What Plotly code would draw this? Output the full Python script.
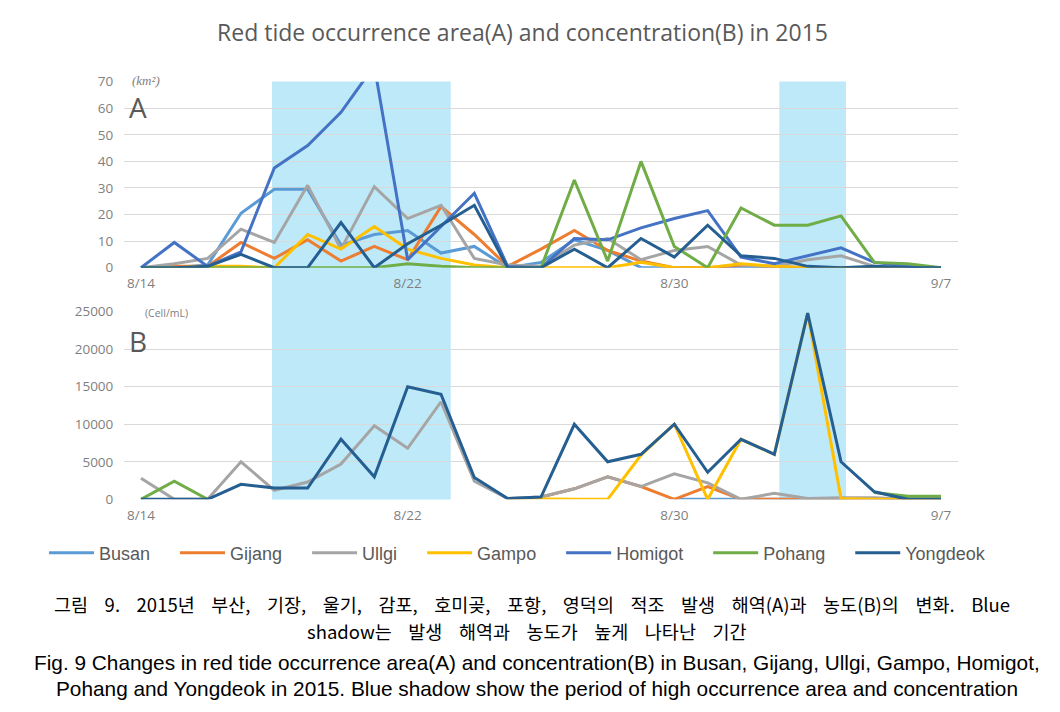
import plotly.graph_objects as go

# ---------------- data ----------------
dates = ["2015-08-14", "2015-08-15", "2015-08-16", "2015-08-17", "2015-08-18",
         "2015-08-19", "2015-08-20", "2015-08-21", "2015-08-22", "2015-08-23",
         "2015-08-24", "2015-08-25", "2015-08-26", "2015-08-27", "2015-08-28",
         "2015-08-29", "2015-08-30", "2015-08-31", "2015-09-01", "2015-09-02",
         "2015-09-03", "2015-09-04", "2015-09-05", "2015-09-06", "2015-09-07"]
tick_vals = ["2015-08-14", "2015-08-22", "2015-08-30", "2015-09-07"]
tick_text = ["8/14", "8/22", "8/30", "9/7"]

stations = ["Busan", "Gijang", "Ullgi", "Gampo", "Homigot", "Pohang", "Yongdeok"]
colors = ["#5B9BD5", "#ED7D31", "#A5A5A5", "#FFC000", "#4472C4", "#70AD47", "#255E91"]

# (A) occurrence area, km2
busan_area    = [0, 0, 1, 20.5, 29.5, 29.5, 8.5, 12.5, 14, 5.5, 8, 0, 2, 10.5, 6.5, 0, 0, 0, 0, 0, 0, 0, 0, 0, 0]
gijang_area   = [0, 0.5, 0.5, 9.5, 3.5, 10.5, 2.5, 8, 3, 23, 12.5, 0.5, 7, 14, 6.5, 2.5, 0, 0, 1, 0.5, 0, 0, 0, 0, 0]
ullgi_area    = [0, 1.5, 3.5, 14.5, 9.5, 31, 7, 30.5, 18.5, 23.5, 3.5, 1, 0.5, 8.5, 11, 3, 6.5, 8, 1, 0.5, 3, 4.5, 0.5, 0, 0]
gampo_area    = [0, 0, 0.5, 0.5, 0, 12.5, 7, 15.5, 7, 3.5, 1, 0, 0, 0, 0, 2, 0, 0, 1.5, 0.5, 0, 0, 0, 0, 0]
homigot_area  = [0, 9.5, 0.5, 6, 37.5, 46, 58.5, 76, 3, 15.5, 28, 0.5, 0, 11, 10.5, 15, 18.5, 21.5, 4, 1.5, 4.5, 7.5, 2, 0.5, 0]
pohang_area   = [0, 0, 0, 0, 0, 0, 0, 0, 1.5, 0.5, 0, 0, 0, 33, 2.5, 40, 8, 0, 22.5, 16, 16, 19.5, 2, 1.5, 0]
yongdeok_area = [0, 0, 0.5, 5, 0, 0, 17, 0, 9, 16, 23.5, 0, 0, 7, 0, 11, 4, 16, 4.5, 3.5, 0.5, 0, 0.5, 0, 0]

# (B) concentration, cells/mL (None = not measured)
N = None
busan_conc    = [N, N, N, N, N, N, N, N, N, N, N, N, N, N, N, N, 0, 0, 0, 0, 0, 0, 0, 0, 0]
gijang_conc   = [N, N, N, N, N, N, N, N, N, N, N, N, 300, 1400, 3000, 1700, 0, 1700, 0, 0, 0, 0, 0, 0, 0]
ullgi_conc    = [2800, 0, 0, 5000, 1200, 2300, 4700, 9800, 6800, 13000, 2400, 100, 300, 1400, 3000, 1700, 3400, 2200, 0, 800, 100, 200, 200, 0, 0]
gampo_conc    = [N, N, N, N, N, N, N, N, N, N, N, 100, 0, 0, 0, 5900, 10000, 0, 8000, 6000, 24800, 100, 0, 0, 0]
homigot_conc  = [N] * 25
pohang_conc   = [0, 2400, 0, N, N, N, N, N, N, N, N, N, N, N, N, N, N, N, N, N, N, N, 900, 400, 400]
yongdeok_conc = [0, 0, 0, 2000, 1500, 1500, 8000, 3000, 15000, 14000, 2900, 100, 300, 10000, 5000, 6000, 10000, 3600, 8000, 6000, 24800, 5000, 1000, 0, 0]

area_series = [busan_area, gijang_area, ullgi_area, gampo_area, homigot_area, pohang_area, yongdeok_area]
conc_series = [busan_conc, gijang_conc, ullgi_conc, gampo_conc, homigot_conc, pohang_conc, yongdeok_conc]

# high-occurrence periods (blue shadow)
shade_periods = [("2015-08-17 22:20", "2015-08-23 07:00"),
                 ("2015-09-02 03:35", "2015-09-04 03:35")]

# ---------------- layout helpers ----------------
# page body has an 8px margin, so the figure is sized to fit inside the window
OFF = 8
W, H = 1060 - 2 * OFF, 712 - 2 * OFF


def px(x):
    return (x - OFF) / W


def py(y):
    return 1 - (y - OFF) / H


fig = go.Figure()

NB = "\u00a0"
for name, col, ya, yb in zip(stations, colors, area_series, conc_series):
    fig.add_trace(go.Scatter(x=dates, y=ya, name=name + NB * 4, mode="lines",
                             line=dict(color=col, width=3), xaxis="x", yaxis="y",
                             legendgroup=name, showlegend=True))
    fig.add_trace(go.Scatter(x=dates, y=yb, name=name, mode="lines",
                             line=dict(color=col, width=3), xaxis="x2", yaxis="y2",
                             legendgroup=name, showlegend=False, connectgaps=False))

for x0, x1 in shade_periods:
    fig.add_shape(type="rect", xref="x", yref="paper", x0=x0, x1=x1,
                  y0=py(499.5), y1=py(81.5),
                  fillcolor="#BEE9F9", line=dict(width=0), layer="below")

tick_font = dict(family="Open Sans, Noto Sans, sans-serif", size=13.5, color="#7F7F7F")
xdom = [px(124.3), px(957.7)]
xrange = ["2015-08-13 12:00", "2015-09-07 12:00"]
xcommon = dict(range=xrange, domain=xdom, type="date", tickvals=tick_vals, ticktext=tick_text,
               showgrid=False, zeroline=False, showline=False, ticks="", tickfont=tick_font,
               ticklabelstandoff=6, automargin=False)
ycommon = dict(showgrid=True, gridcolor="#D9D9D9", gridwidth=1, zeroline=False, showline=False,
               ticks="", tickfont=tick_font, ticklabelstandoff=10, tickformat="d", automargin=False)

fig.update_layout(
    width=W, height=H,
    margin=dict(l=0, r=0, t=0, b=0, autoexpand=False),
    paper_bgcolor="white", plot_bgcolor="rgba(0,0,0,0)",
    xaxis=dict(anchor="y", **xcommon),
    xaxis2=dict(anchor="y2", **xcommon),
    yaxis=dict(anchor="x", domain=[py(267.7), py(81.7)], range=[0, 70], dtick=10, **ycommon),
    yaxis2=dict(anchor="x2", domain=[py(499.3), py(311.7)], range=[0, 25000], dtick=5000, **ycommon),
    title=dict(text="Red tide occurrence area(A) and concentration(B) in 2015",
               x=px(522.5), xanchor="center", y=py(33), yanchor="middle",
               font=dict(family="Open Sans, Noto Sans, sans-serif", size=23, color="#595959")),
    legend=dict(orientation="h", x=px(527), xanchor="center", y=py(553), yanchor="middle",
                font=dict(family="Liberation Sans, Arial, sans-serif", size=18, color="#595959"),
                itemwidth=45, bgcolor="rgba(0,0,0,0)"),
    showlegend=True,
)

ann = []
ann.append(dict(text="<i>(km²)</i>", x=px(146), y=py(81), xref="paper", yref="paper",
                xanchor="center", yanchor="middle", showarrow=False, bgcolor="white", borderpad=1,
                font=dict(family="Liberation Serif, DejaVu Serif, serif", size=13, color="#808080")))
ann.append(dict(text="A", x=px(138), y=py(107), xref="paper", yref="paper", showarrow=False,
                xanchor="center", yanchor="middle",
                font=dict(family="Open Sans, Noto Sans, sans-serif", size=28, color="#595959")))
ann.append(dict(text="(Cell/mL)", x=px(166), y=py(313), xref="paper", yref="paper",
                xanchor="center", yanchor="middle", showarrow=False, bgcolor="white", borderpad=5,
                font=dict(family="Open Sans, Noto Sans, sans-serif", size=10.5, color="#808080")))
ann.append(dict(text="B", x=px(138), y=py(341), xref="paper", yref="paper", showarrow=False,
                xanchor="center", yanchor="middle",
                font=dict(family="Open Sans, Noto Sans, sans-serif", size=28, color="#595959")))

kor_font = dict(family="Noto Sans CJK KR, sans-serif", size=18.5, color="#000000")
eng_font = dict(family="Liberation Sans, Arial, sans-serif", size=20.8, color="#000000")
SP = " " + NB * 3
captions = [
    ("그림 9. 2015년 부산, 기장, 울기, 감포, 호미곶, 포항, 영덕의 적조 발생 해역(A)과 농도(B)의 변화. Blue".replace(" ", SP),
     532, 604, kor_font),
    ("shadow는 발생 해역과 농도가 높게 나타난 기간".replace(" ", SP), 527, 631, kor_font),
    ("Fig. 9 Changes in red tide occurrence area(A) and concentration(B) in Busan, Gijang, Ullgi, Gampo, Homigot,",
     537, 662, eng_font),
    ("Pohang and Yongdeok in 2015. Blue shadow show the period of high occurrence area and concentration",
     537, 688, eng_font),
]
for txt, xx, yy, f in captions:
    ann.append(dict(text=txt, x=px(xx), y=py(yy), xref="paper", yref="paper",
                    showarrow=False, xanchor="center", yanchor="middle", font=f))
fig.update_layout(annotations=ann)

fig.write_html("out.html")
